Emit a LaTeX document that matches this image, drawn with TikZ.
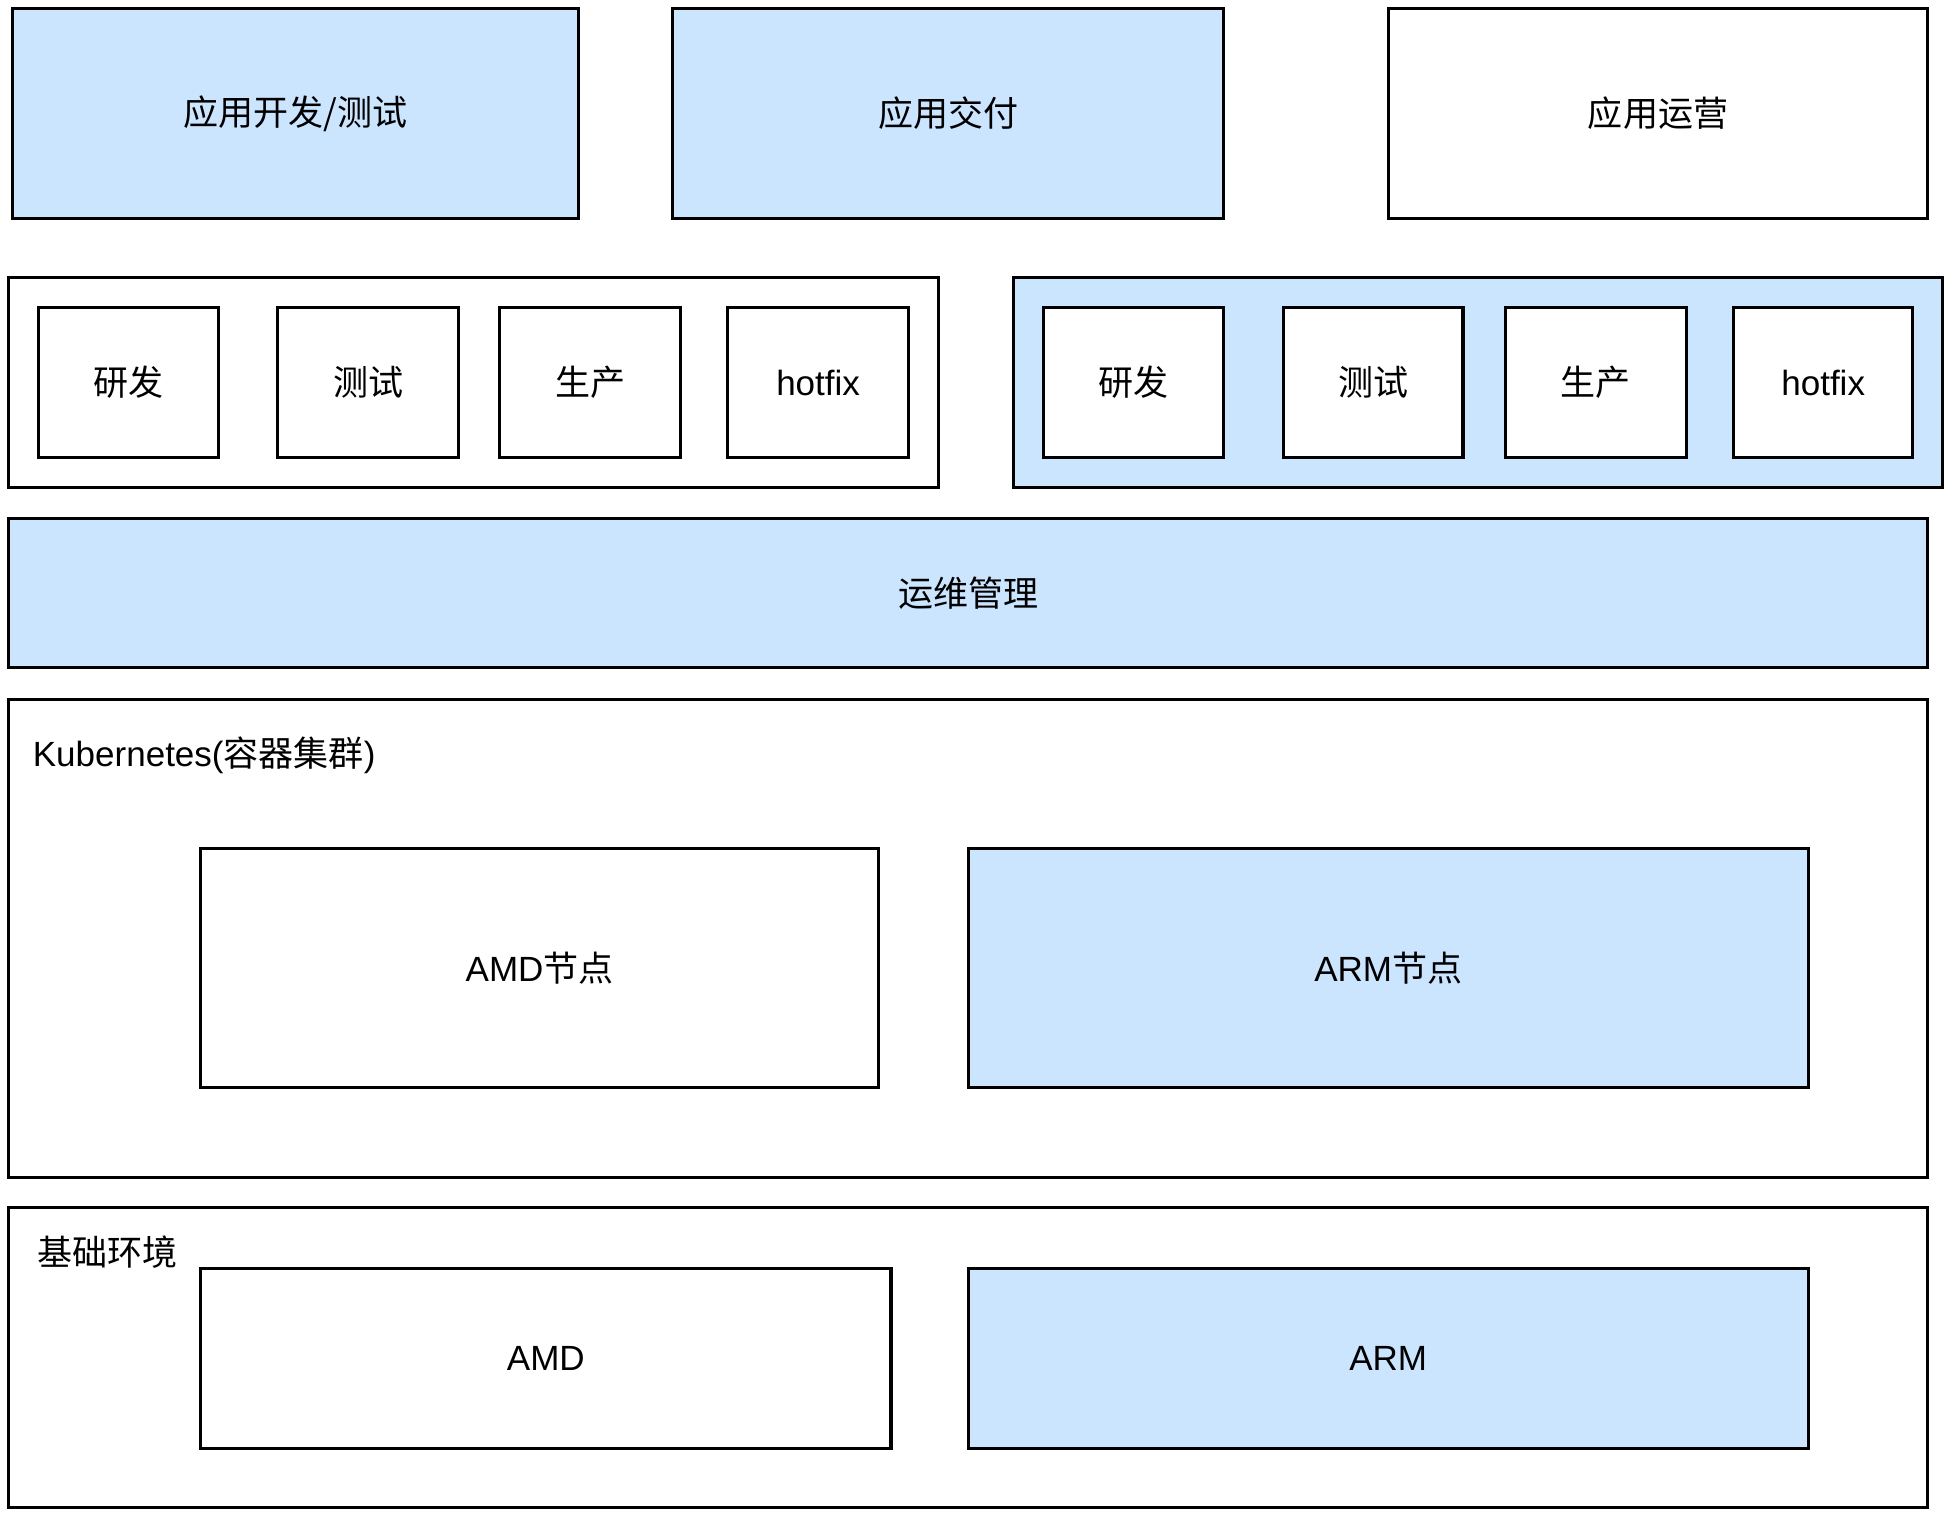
\documentclass[tikz,border=0pt]{standalone}
\usepackage{fontspec}
\setmainfont{Liberation Sans}
\newfontfamily\cjk{Noto Sans CJK SC}
\usetikzlibrary{fit}
\definecolor{paleblue}{HTML}{CCE5FF}

\tikzset{
    layer/.style = {draw, line width=1.4pt, inner sep=0pt},
    bluelayer/.style = {layer, fill=paleblue},
    whitelayer/.style = {layer, fill=white},
    caption/.style = {inner sep=0pt, font=\fontsize{16}{19}\selectfont}
}

\begin{document}
\begin{tikzpicture}[x=0.02cm, y=-0.02cm]
        \useasboundingbox (0,0) rectangle (1568,1219);

        % applications
        \node[bluelayer, fit={(10,7) (464,175)}] (appdev) {};
        \node[bluelayer, fit={(540,7) (982,175)}] (appdeliver) {};
        \node[whitelayer, fit={(1114,7) (1547,175)}] (appops) {};
        \node[caption] (appdevtext) at (appdev) {\cjk 应用开发/测试};
        \node[caption] (appdelivertext) at (appdeliver) {\cjk 应用交付};
        \node[caption] (appopstext) at (appops) {\cjk 应用运营};

        % environments, left group
        \node[whitelayer, fit={(7,223) (753,391)}] (envleft) {};
        \node[whitelayer, fit={(31,247) (175,367)}] (ldev) {};
        \node[whitelayer, fit={(223,247) (368,367)}] (ltest) {};
        \node[whitelayer, fit={(401,247) (546,367)}] (lprod) {};
        \node[whitelayer, fit={(584,247) (729,367)}] (lfix) {};
        \node[caption] (ldevtext) at (ldev) {\cjk 研发};
        \node[caption] (ltesttext) at (ltest) {\cjk 测试};
        \node[caption] (lprodtext) at (lprod) {\cjk 生产};
        \node[caption] (lfixtext) at (lfix) {hotfix};

        % environments, right group
        \node[bluelayer, fit={(813,223) (1559,391)}] (envright) {};
        \node[whitelayer, fit={(837,247) (982,367)}] (rdev) {};
        \node[whitelayer, fit={(1030,247) (1174,367)}] (rtest) {};
        \node[whitelayer, fit={(1208,247) (1353,367)}] (rprod) {};
        \node[whitelayer, fit={(1391,247) (1535,367)}] (rfix) {};
        \node[caption] (rdevtext) at (rdev) {\cjk 研发};
        \node[caption] (rtesttext) at (rtest) {\cjk 测试};
        \node[caption] (rprodtext) at (rprod) {\cjk 生产};
        \node[caption] (rfixtext) at (rfix) {hotfix};

        \node[bluelayer, fit={(7,416) (1547,536)}] (opsmgmt) {};
        \node[caption] (opsmgmttext) at (opsmgmt) {\cjk 运维管理};

        % kubernetes
        \node[whitelayer, fit={(7,561) (1547,945)}] (k8s) {};
        \node[caption, anchor=west] (k8slabel) at (26,606) {Kubernetes({\cjk 容器集群})};
        \node[whitelayer, fit={(161,681) (705,873)}] (amdnode) {};
        \node[bluelayer, fit={(777,681) (1451,873)}] (armnode) {};
        \node[caption] (amdnodetext) at (amdnode) {AMD{\cjk 节点}};
        \node[caption] (armnodetext) at (armnode) {ARM{\cjk 节点}};

        % infrastructure
        \node[whitelayer, fit={(7,969) (1547,1210)}] (infra) {};
        \node[caption, anchor=west] (infralabel) at (30,1005) {\cjk 基础环境};
        \node[whitelayer, fit={(161,1018) (715,1162)}] (amd) {};
        \node[bluelayer, fit={(777,1018) (1451,1162)}] (arm) {};
        \node[caption] (amdtext) at (amd) {AMD};
        \node[caption] (armtext) at (arm) {ARM};
        %\draw[help lines, step=100] (0,0) grid (1568,1219);
    \end{tikzpicture}
\end{document}
